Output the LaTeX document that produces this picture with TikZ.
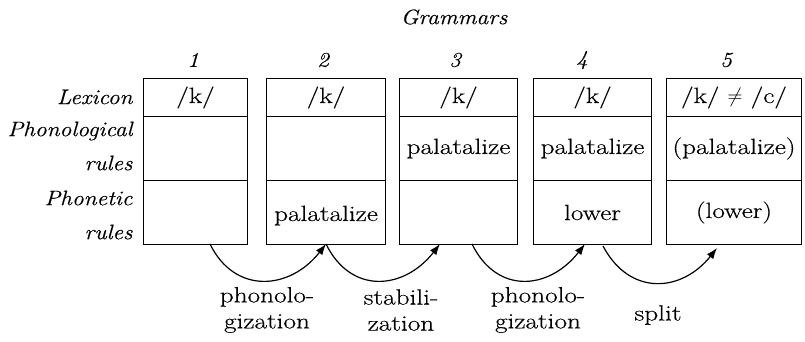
\documentclass[tikz,border=0pt]{standalone}
\usepackage{fontspec}
\setmainfont{Latin Modern Roman}[UprightFeatures={FakeStretch=1.24,FakeBold=0.4},ItalicFeatures={FakeStretch=1.12,FakeBold=0.3}]
\usetikzlibrary{arrows.meta}
\begin{document}
\begin{tikzpicture}[x=1pt,y=1pt,
  every node/.style={font=\fontsize{22}{26}\selectfont},
  cell/.style={draw,line width=1pt,anchor=north west,inner sep=0pt},
  lab/.style={anchor=east,font=\fontsize{21}{26}\selectfont\itshape},
  num/.style={font=\fontsize{21}{26}\selectfont\itshape},
  txt/.style={inner sep=0pt},
  proc/.style={align=center,inner sep=0pt},
  conn/.style={line width=1.2pt,-{Latex[length=11pt,width=8pt]}}]
\useasboundingbox (0,0) rectangle (805,342);
% grammar boxes: columns
\foreach \n/\xl/\w in {1/143/104,2/266/119,3/399/118,4/533/118,5/666/135}{
  \node[cell,minimum width=\w pt,minimum height=38pt] (lex\n) at (\xl,264) {};
  \node[cell,minimum width=\w pt,minimum height=64pt] (pho\n) at (\xl,226) {};
  \node[cell,minimum width=\w pt,minimum height=64pt] (pht\n) at (\xl,162) {};
}
% headings
\node[num] (gram) at (454,325) {Grammars};
\node[num] (n1) at (193,282) {1};
\node[num] (n2) at (323,282) {2};
\node[num] (n3) at (455,282) {3};
\node[num] (n4) at (582,282) {4};
\node[num] (n5) at (726,282) {5};
% row labels
\node[lab] (lLex) at (136,245) {Lexicon};
\node[lab] (lPh1) at (136,211) {Phonological};
\node[lab] (lPh2) at (136,179) {rules};
\node[lab] (lPt1) at (136,144) {Phonetic};
\node[lab] (lPt2) at (136,110) {rules};
% contents
\node[txt] (k1) at (lex1.center) {/k/};
\node[txt] (k2) at (lex2.center) {/k/};
\node[txt] (k3) at (lex3.center) {/k/};
\node[txt] (k4) at (lex4.center) {/k/};
\node[txt] (k5) at (lex5.center) {/k/ $\neq$ /c/};
\node[txt] (p3) at (pho3.center) {palatalize};
\node[txt] (p4) at (pho4.center) {palatalize};
\node[txt] (p5) at (pho5.center) {(palatalize)};
\node[txt] (q2) at ([yshift=-3pt]pht2.center) {palatalize};
\node[txt] (q4) at (pht4.center) {lower};
\node[txt] (q5) at (pht5.center) {(lower)};
% connector end points
\coordinate (s1) at (210,98);
\coordinate (e1) at (326,98);
\coordinate (s2) at (326,98);
\coordinate (e2) at (440,98);
\coordinate (s3) at (472,98);
\coordinate (e3) at (585,98);
\coordinate (s4) at (603,96);
\coordinate (e4) at (717,94);
\draw[conn] (s1) .. controls (235,47) and (290,52) .. (e1);
\draw[conn] (s2) .. controls (351,47) and (404,52) .. (e2);
\draw[conn] (s3) .. controls (497,47) and (549,52) .. (e3);
\draw[conn] (s4) .. controls (630,45) and (682,50) .. (e4);
% process labels
\node[proc] (t1) at (267,32) {phonolo-\\gization};
\node[proc] (t2) at (401,32) {stabili-\\zation};
\node[proc] (t3) at (538,32) {phonolo-\\gization};
\node[proc] (t4) at (658,27) {split};
\end{tikzpicture}
\end{document}
